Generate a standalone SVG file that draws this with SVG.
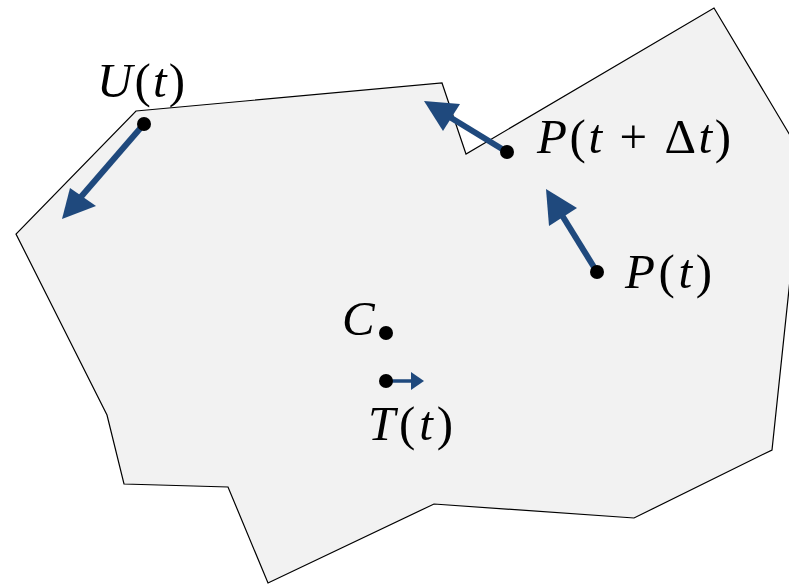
<svg xmlns="http://www.w3.org/2000/svg" width="789" height="584" viewBox="0 0 789 584">
<style>
.shape{fill:#f2f2f2;stroke:#000;stroke-width:1.2;stroke-linejoin:miter}
.arr{stroke:#1f497d;stroke-width:6;fill:none}
.arrs{stroke:#1f497d;stroke-width:3.5;fill:none}
.head{fill:#1f497d}
.dot{fill:#000}
.lbl{font-family:"Liberation Serif","Times New Roman",serif;font-size:49px;fill:#000}
.it{font-style:italic}
</style>
<rect width="789" height="584" fill="#fff"/>
<g id="region">
<polygon class="shape" points="136,111 442,83 466,154 714,8 803,157 772,450 634,518 434,504 268,583 228,487 124,484 107,415 16,234"/>
</g>
<g id="connectors">
<line class="arr" x1="144" y1="124" x2="80" y2="198"/>
<polygon class="head" points="62,219 70,188 96,206"/>
<line class="arr" x1="507" y1="152" x2="448" y2="116"/>
<polygon class="head" points="424,101 443,131 460,104"/>
<line class="arr" x1="597" y1="272" x2="560" y2="212"/>
<polygon class="head" points="546,189 549,226 577,208"/>
<line class="arrs" x1="386" y1="381" x2="412" y2="381"/>
<polygon class="head" points="424,381 411,372 411,390"/>
</g>
<g id="U">
<circle class="dot" cx="144" cy="124" r="7"/>
<text class="lbl" x="97" y="97" textLength="88" lengthAdjust="spacing"><tspan class="it">U</tspan>(<tspan class="it">t</tspan>)</text>
</g>
<g id="Pdt">
<circle class="dot" cx="507" cy="152" r="7"/>
<text class="lbl" x="537" y="153" textLength="194" lengthAdjust="spacing"><tspan class="it">P</tspan>(<tspan class="it">t</tspan> + Δ<tspan class="it">t</tspan>)</text>
</g>
<g id="P">
<circle class="dot" cx="597" cy="272" r="7"/>
<text class="lbl" x="625" y="288" textLength="87" lengthAdjust="spacing"><tspan class="it">P</tspan>(<tspan class="it">t</tspan>)</text>
</g>
<g id="C">
<circle class="dot" cx="386" cy="333" r="7"/>
<text class="lbl it" x="342" y="335">C</text>
</g>
<g id="T">
<circle class="dot" cx="386" cy="381" r="7"/>
<text class="lbl" x="368" y="440" textLength="85" lengthAdjust="spacing"><tspan class="it">T</tspan>(<tspan class="it">t</tspan>)</text>
</g>
</svg>
